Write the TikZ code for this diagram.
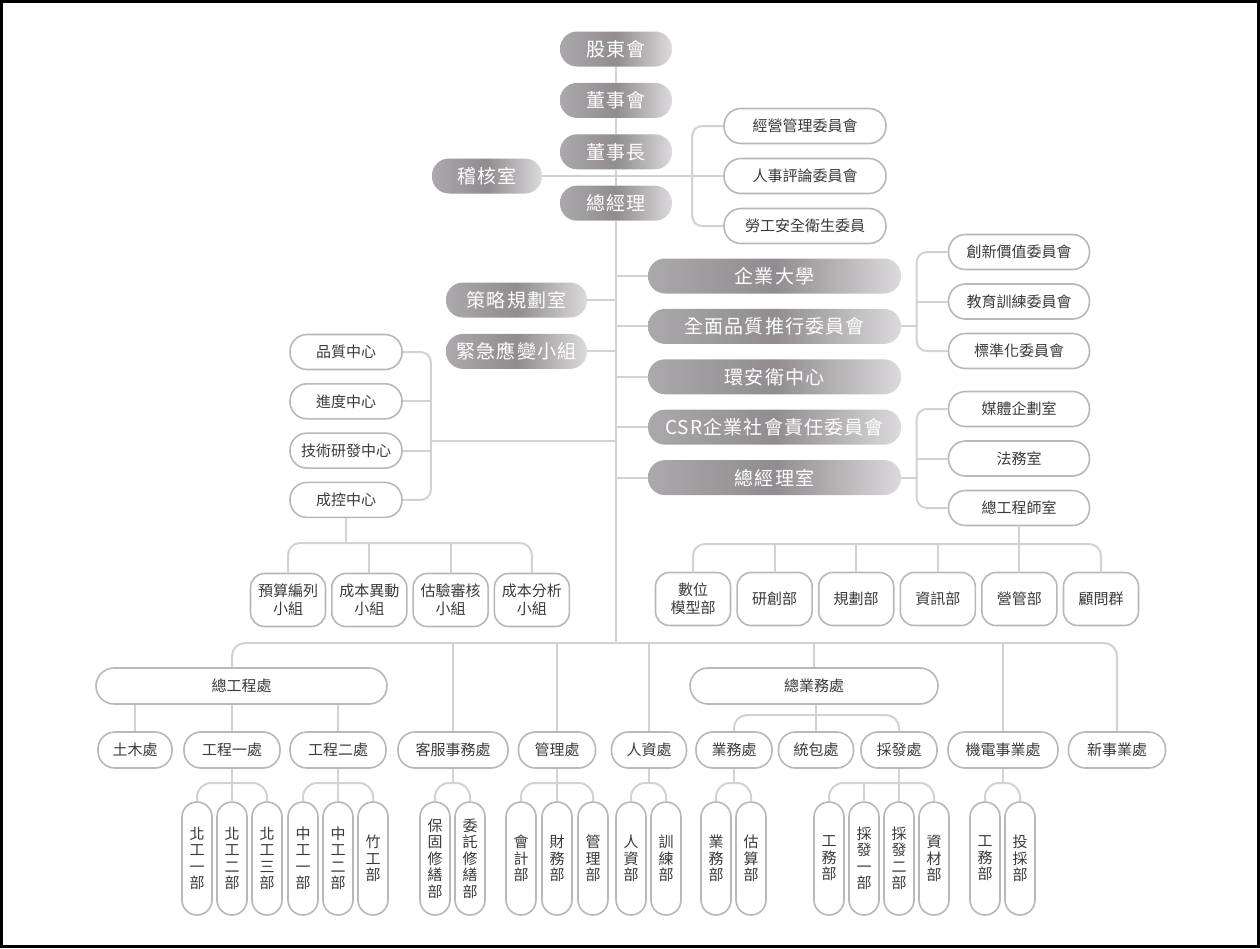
\documentclass[tikz,border=0pt]{standalone}
\usepackage{fontspec}
\setmainfont{Noto Sans CJK TC}
\newfontfamily\spacedfont[LetterSpace=6]{Noto Sans CJK TC}
\usetikzlibrary{positioning}

\definecolor{linkgray}{HTML}{D2D2D2}
\definecolor{rimgray}{HTML}{B9B7B9}
\definecolor{pillleft}{HTML}{ABA9AB}
\definecolor{pillmid}{HTML}{908C8F}
\definecolor{pillright}{HTML}{DCDADC}
\definecolor{textgray}{HTML}{3A3A3A}

\begin{document}
\begin{tikzpicture}[x=1pt,y=-1pt,
	link/.style={draw=linkgray, line width=2pt},
	graybox/.style={rectangle, rounded corners=17pt, minimum height=35pt, inner sep=0pt,
		left color=pillleft, right color=pillright, middle color=pillmid,
		text=white, font=\spacedfont\fontsize{19}{22}\selectfont},
	whitebox/.style={rectangle, rounded corners=17pt, minimum height=35pt, inner sep=0pt,
		draw=rimgray, line width=1.6pt, fill=white, text=textgray,
		font=\fontsize{15}{18}\selectfont},
	unitbox/.style={whitebox, rounded corners=14pt, minimum width=75pt, minimum height=53pt, align=center},
	deptbox/.style={whitebox, rounded corners=15pt, minimum width=30pt, minimum height=113pt,
		align=center, font=\fontsize{15}{16.5}\selectfont}]
	\useasboundingbox (0,0) rectangle (1260,948);
	\draw[line width=3pt] (1.5,1.5) rectangle (1258.5,946.5);

	% top column
	\node[graybox, minimum width=112pt] (gd) at (616,49) {股東會};
	\node[graybox, minimum width=112pt, below=16pt of gd] (dsh) {董事會};
	\node[graybox, minimum width=112pt, below=16pt of dsh] (dsz) {董事長};
	\node[graybox, minimum width=112pt, below=16pt of dsz] (zjl) {總經理};
	\node[graybox, minimum width=110pt] (jhs) at (487,176) {稽核室};

	\node[whitebox, minimum width=162pt] (jygl) at (805,126) {經營管理委員會};
	\node[whitebox, minimum width=162pt, below=13.4pt of jygl] (rspl) {人事評論委員會};
	\node[whitebox, minimum width=162pt, below=13.4pt of rspl] (lgaq) {勞工安全衛生委員};

	% staff units
	\node[graybox, minimum width=253pt] (qydx) at (774.5,276) {企業大學};
	\node[graybox, minimum width=253pt, below=15pt of qydx] (qpts) {全面品質推行委員會};
	\node[graybox, minimum width=253pt, below=15pt of qpts] (haw) {環安衛中心};
	\node[graybox, minimum width=253pt, below=15pt of haw] (csr) {CSR企業社會責任委員會};
	\node[graybox, minimum width=253pt, below=15pt of csr] (zjls) {總經理室};

	\node[graybox, minimum width=141pt] (clgh) at (516.5,300) {策略規劃室};
	\node[graybox, minimum width=141pt, below=16pt of clgh] (jjyb) {緊急應變小組};

	\node[whitebox, minimum width=141pt] (cxjz) at (1019,252) {創新價值委員會};
	\node[whitebox, minimum width=141pt, below=12.9pt of cxjz] (jyxl) {教育訓練委員會};
	\node[whitebox, minimum width=141pt, below=12.9pt of jyxl] (bzh) {標準化委員會};

	\node[whitebox, minimum width=141pt] (mtqh) at (1019,409) {媒體企劃室};
	\node[whitebox, minimum width=141pt, below=12.9pt of mtqh] (fws) {法務室};
	\node[whitebox, minimum width=141pt, below=12.9pt of fws] (zgcs) {總工程師室};

	\node[unitbox] (swmx) at (693,599) {數位\\模型部};
	\node[unitbox, right=5pt of swmx] (yc) {研創部};
	\node[unitbox, right=5pt of yc] (gh) {規劃部};
	\node[unitbox, right=5pt of gh] (zx) {資訊部};
	\node[unitbox, right=5pt of zx] (ygb) {營管部};
	\node[unitbox, right=5pt of ygb] (gwq) {顧問群};

	\node[whitebox, minimum width=112pt] (pz) at (346,352) {品質中心};
	\node[whitebox, minimum width=112pt, below=12.7pt of pz] (jd) {進度中心};
	\node[whitebox, minimum width=112pt, below=12.7pt of jd] (jsyf) {技術研發中心};
	\node[whitebox, minimum width=112pt, below=12.7pt of jsyf] (ck) {成控中心};

	\node[unitbox] (ysbl) at (288,600) {預算編列\\小組};
	\node[unitbox, right=4.7pt of ysbl] (cbyd) {成本異動\\小組};
	\node[unitbox, right=4.7pt of cbyd] (gysh) {估驗審核\\小組};
	\node[unitbox, right=4.7pt of gysh] (cbfx) {成本分析\\小組};

	% divisions
	\node[whitebox, rounded corners=18pt, minimum height=36pt, minimum width=291pt] (zgc) at (241.5,686) {總工程處};
	\node[whitebox, rounded corners=18pt, minimum height=36pt, minimum width=248pt] (zyw) at (814,686) {總業務處};

	\node[whitebox, minimum height=36pt, minimum width=74pt] (tm) at (135,750) {土木處};
	\node[whitebox, minimum height=36pt, minimum width=96pt] (gc1) at (232,750) {工程一處};
	\node[whitebox, minimum height=36pt, minimum width=96pt] (gc2) at (338,750) {工程二處};
	\node[whitebox, minimum height=36pt, minimum width=110pt] (kf) at (453,750) {客服事務處};
	\node[whitebox, minimum height=36pt, minimum width=77pt] (glc) at (557,750) {管理處};
	\node[whitebox, minimum height=36pt, minimum width=75pt] (rzc) at (649,750) {人資處};
	\node[whitebox, minimum height=36pt, minimum width=76pt] (ywc) at (734,750) {業務處};
	\node[whitebox, minimum height=36pt, minimum width=75pt] (tbc) at (816,750) {統包處};
	\node[whitebox, minimum height=36pt, minimum width=76pt] (cfc) at (899,750) {採發處};
	\node[whitebox, minimum height=36pt, minimum width=110pt] (jdsy) at (1003,750) {機電事業處};
	\node[whitebox, minimum height=36pt, minimum width=97pt] (xsy) at (1117,750) {新事業處};

	% departments
	\node[deptbox] (bg1) at (197,858.5) {北\\工\\一\\部};
	\node[deptbox, right=3.4pt of bg1] (bg2) {北\\工\\二\\部};
	\node[deptbox, right=3.4pt of bg2] (bg3) {北\\工\\三\\部};
	\node[deptbox] (zg1) at (303,858.5) {中\\工\\一\\部};
	\node[deptbox, right=3.4pt of zg1] (zg2) {中\\工\\二\\部};
	\node[deptbox, right=3.4pt of zg2] (zgb) {竹\\工\\部};
	\node[deptbox] (bgxs) at (435,858.5) {保\\固\\修\\繕\\部};
	\node[deptbox, right=3.4pt of bgxs] (wtxs) {委\\託\\修\\繕\\部};
	\node[deptbox] (kj) at (521,858.5) {會\\計\\部};
	\node[deptbox, right=4.4pt of kj] (cw) {財\\務\\部};
	\node[deptbox, right=4.4pt of cw] (gl) {管\\理\\部};
	\node[deptbox] (rzb) at (631,858.5) {人\\資\\部};
	\node[deptbox, right=3.4pt of rzb] (xlb) {訓\\練\\部};
	\node[deptbox] (ywb) at (716,858.5) {業\\務\\部};
	\node[deptbox, right=3.4pt of ywb] (gsb) {估\\算\\部};
	\node[deptbox] (gwb) at (829,858.5) {工\\務\\部};
	\node[deptbox, right=3.4pt of gwb] (cf1) {採\\發\\一\\部};
	\node[deptbox, right=3.4pt of cf1] (cf2) {採\\發\\二\\部};
	\node[deptbox, right=3.4pt of cf2] (zcb) {資\\材\\部};
	\node[deptbox] (gwb2) at (985,858.5) {工\\務\\部};
	\node[deptbox, right=3.4pt of gwb2] (tcb) {投\\採\\部};

	% connectors
	\coordinate (bus) at (616,643);
	\coordinate (bus1) at (0,544);
	\coordinate (bus2) at (0,543);
	\coordinate (bus3) at (0,715);
	\coordinate (bus4) at (0,783);
	\coordinate (pzj) at (430,441);

	\draw[link] (gd) -- (dsh) -- (dsz) -- (zjl) -- (bus);
	\draw[link] (jhs.east) -- (rspl.west);
	\draw[link, rounded corners=10pt] (jygl.west) -- ++(-31,0) |- (lgaq.west);

	\foreach \n in {qydx,qpts,haw,csr,zjls}
		\draw[link] (\n.west -| gd) -- (\n.west);
	\foreach \n in {clgh,jjyb}
		\draw[link] (\n.east) -- (\n.east -| gd);

	\draw[link, rounded corners=10pt] (cxjz.west) -- ++(-31,0) |- (bzh.west);
	\draw[link] (jyxl.west) -- ++(-31,0);
	\draw[link] (qpts.east) -- ++(17,0);
	\draw[link, rounded corners=10pt] (mtqh.west) -- ++(-31,0) |- (zgcs.west);
	\draw[link] (fws.west) -- ++(-31,0);
	\draw[link] (zjls.east) -- ++(17,0);

	\draw[link, rounded corners=12pt] (swmx.north) |- (bus1 -| gwq) -- (gwq.north);
	\foreach \n in {yc,gh,zx}
		\draw[link] (\n.north) -- (\n.north |- bus1);
	\draw[link] (zgcs.south) -- (zgcs.south |- ygb.north);

	\draw[link, rounded corners=10pt] (pz.east) -- ++(28,0) |- (ck.east);
	\foreach \n in {jd,jsyf}
		\draw[link] (\n.east) -- ++(28,0);
	\draw[link] (pzj) -- (pzj -| gd);

	\draw[link, rounded corners=12pt] (ysbl.north) |- (bus2 -| cbfx) -- (cbfx.north);
	\foreach \n in {cbyd,gysh}
		\draw[link] (\n.north) -- (\n.north |- bus2);
	\draw[link] (ck.south) -- (ck.south |- bus2);

	\draw[link, rounded corners=13pt] (gc1 |- zgc.north) |- (bus -| xsy) -- (xsy.north);
	\foreach \n in {kf,glc,rzc,zyw,jdsy}
		\draw[link] (\n.north |- bus) -- (\n.north);
	\foreach \n in {tm,gc1,gc2}
		\draw[link] (\n.north |- zgc.south) -- (\n.north);

	\draw[link, rounded corners=13pt] (ywc.north) |- (bus3 -| cfc) -- (cfc.north);
	\draw[link] (zyw.south -| tbc) -- (tbc.north);

	\draw[link, rounded corners=14pt] (bg1.north) |- (bus4 -| bg3) -- (bg3.north);
	\draw[link] (gc1.south) -- (gc1.south |- bg2.north);
	\draw[link, rounded corners=14pt] (zg1.north) |- (bus4 -| zgb) -- (zgb.north);
	\draw[link] (gc2.south) -- (gc2.south |- zg2.north);
	\draw[link, rounded corners=14pt] (bgxs.north) |- (bus4 -| wtxs) -- (wtxs.north);
	\draw[link] (kf.south) -- (kf.south |- bus4);
	\draw[link, rounded corners=14pt] (kj.north) |- (bus4 -| gl) -- (gl.north);
	\draw[link] (glc.south) -- (glc.south |- cw.north);
	\draw[link, rounded corners=14pt] (rzb.north) |- (bus4 -| xlb) -- (xlb.north);
	\draw[link] (rzc.south) -- (rzc.south |- bus4);
	\draw[link, rounded corners=14pt] (ywb.north) |- (bus4 -| gsb) -- (gsb.north);
	\draw[link] (ywc.south) -- (ywc.south |- bus4);
	\draw[link, rounded corners=14pt] (gwb.north) |- (bus4 -| zcb) -- (zcb.north);
	\draw[link] (cfc.south) -- (cfc.south |- cf2.north);
	\draw[link] (cf1.north |- bus4) -- (cf1.north);
	\draw[link, rounded corners=14pt] (gwb2.north) |- (bus4 -| tcb) -- (tcb.north);
	\draw[link] (jdsy.south) -- (jdsy.south |- bus4);
\end{tikzpicture}
\end{document}
